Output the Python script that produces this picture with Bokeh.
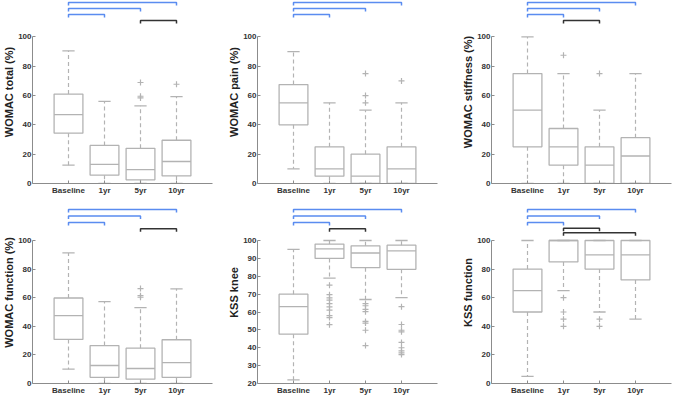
from bokeh.plotting import figure
from bokeh.models import Range1d, FixedTicker
from bokeh.layouts import column, row
from bokeh.embed import file_html
from bokeh.resources import INLINE

categories = ["Baseline", "1yr", "5yr", "10yr"]

# ---- WOMAC total (%)
total_lo = [12.5, 0, 0, 0]
total_q1 = [34.3, 5.7, 2.5, 5.2]
total_med = [47, 13, 9.5, 15]
total_q3 = [61, 26, 24, 29.5]
total_hi = [90.5, 56, 53, 59.3]
total_out = [[], [], [68.9, 59.5, 58.4], [67.7]]

# ---- WOMAC pain (%)
pain_lo = [10, 0, 0, 0]
pain_q1 = [40, 5, 0, 0]
pain_med = [55, 10, 5, 10]
pain_q3 = [67.5, 25, 20, 25]
pain_hi = [90, 55, 50, 55]
pain_out = [[], [], [75, 60, 55], [70]]

# ---- WOMAC stiffness (%)
stiff_lo = [0, 0, 0, 0]
stiff_q1 = [25, 12.5, 0, 0]
stiff_med = [50, 25, 12.5, 18.75]
stiff_q3 = [75, 37.5, 25, 31.25]
stiff_hi = [100, 75, 50, 75]
stiff_out = [[], [87.5], [75], []]

# ---- WOMAC function (%)
func_lo = [10, 0, 0, 0]
func_q1 = [30.8, 4.3, 3, 4.3]
func_med = [47.5, 12.6, 10.5, 14.6]
func_q3 = [59.8, 26.5, 24.7, 30.6]
func_hi = [91.3, 57.3, 53, 66.2]
func_out = [[], [], [66.4, 61.4, 60.3], []]

# ---- KSS knee
knee_lo = [22, 79, 67, 68]
knee_q1 = [47.6, 90, 84.8, 83.9]
knee_med = [63, 95.3, 93, 94.2]
knee_q3 = [70, 98, 97, 97.4]
knee_hi = [95, 100, 100, 100]
knee_out = [[],
            [75, 69.7, 67.9, 66.6, 64.7, 62.9, 61.1, 58, 56.9, 52.9],
            [64.7, 63.5, 61.5, 60.2, 54.7, 53.8, 49.8, 41.2],
            [63, 53, 49.8, 48.9, 43, 40, 38.2, 37.1, 36.2]]

# ---- KSS function
kssf_lo = [5, 65, 50, 45]
kssf_q1 = [50, 85, 80, 72.4]
kssf_med = [65, 100, 90, 90]
kssf_q3 = [80, 100, 100, 100]
kssf_hi = [100, 100, 100, 100]
kssf_out = [[], [60, 50, 45, 40], [45, 40], []]

# significance brackets: (from category index, to category index, kind, stack level)
total_brackets = [(0, 1, "b", 1), (0, 2, "b", 2), (0, 3, "b", 3), (2, 3, "k", 0)]
pain_brackets = [(0, 1, "b", 1), (0, 2, "b", 2), (0, 3, "b", 3)]
stiff_brackets = [(0, 1, "b", 1), (0, 2, "b", 2), (0, 3, "b", 3), (1, 2, "k", 0)]
func_brackets = [(0, 1, "b", 1), (0, 2, "b", 2), (0, 3, "b", 3), (2, 3, "k", 0)]
knee_brackets = [(0, 1, "b", 1), (0, 2, "b", 2), (0, 3, "b", 3), (1, 2, "k", 0)]
kssf_brackets = [(0, 1, "b", 1), (0, 2, "b", 2), (0, 3, "b", 3), (1, 2, "k", 0.1), (1, 3, "k", -0.6)]

BOX = "#b3b3b3"
AXIS = "#8c8c8c"
TXT = "#333333"
BLUE = "#5a8cf0"
BLACK = "#333333"
FONT = "Liberation Sans"
FW = 180


def panel(label, lo, q1, med, q3, hi, out, brackets, ymin, ymax, yticks,
          frame_h, span_px, lvl_px, left, right, bottom):
    ppu = span_px / (ymax - ymin)
    yend = ymin + frame_h / ppu
    p = figure(frame_width=FW, frame_height=frame_h, x_range=Range1d(0, 5),
               y_range=Range1d(ymin, yend), output_backend="svg",
               toolbar_location=None, min_border_left=left,
               min_border_right=right, min_border_top=0,
               min_border_bottom=bottom)
    p.outline_line_color = None
    p.grid.visible = False
    xs = [i + 1 for i in range(len(categories))]

    # boxes
    p.quad(left=[x - 0.4 for x in xs], right=[x + 0.4 for x in xs],
           bottom=q1, top=q3, fill_color=None, line_color=BOX, line_width=1.3)
    # whiskers (dashed)
    p.segment(x0=xs, y0=q3, x1=xs, y1=hi, line_color=BOX, line_width=1.2,
              line_dash="4 3")
    p.segment(x0=xs, y0=q1, x1=xs, y1=lo, line_color=BOX, line_width=1.2,
              line_dash="4 3")
    # caps
    p.segment(x0=[x - 0.17 for x in xs], y0=hi, x1=[x + 0.17 for x in xs],
              y1=hi, line_color=BOX, line_width=1.3)
    p.segment(x0=[x - 0.17 for x in xs], y0=lo, x1=[x + 0.17 for x in xs],
              y1=lo, line_color=BOX, line_width=1.3)
    # medians
    p.segment(x0=[x - 0.4 for x in xs], y0=med, x1=[x + 0.4 for x in xs],
              y1=med, line_color=BOX, line_width=1.3)
    # outliers
    ox, oy = [], []
    for x, vals in zip(xs, out):
        for v in vals:
            ox.append(x)
            oy.append(v)
    if ox:
        p.scatter(x=ox, y=oy, marker="cross", size=6, line_color=BOX,
                  line_width=1.2)

    # brackets
    drop = 3.0 / ppu
    for i, j, kind, lvl in brackets:
        yb = ymax + (lvl_px[0] + lvl * lvl_px[1]) / ppu
        p.line(x=[xs[i], xs[i], xs[j], xs[j]], y=[yb - drop, yb, yb, yb - drop],
               line_color=BLUE if kind == "b" else BLACK, line_width=1.5)

    # axes
    for ax in (p.xaxis[0], p.yaxis[0]):
        ax.axis_line_color = AXIS
        ax.major_tick_line_color = AXIS
        ax.minor_tick_line_color = None
        ax.major_tick_in = 3
        ax.major_tick_out = 0
        ax.major_label_text_font = FONT
        ax.major_label_text_font_style = "bold"
        ax.major_label_text_font_size = "8px"
        ax.major_label_text_color = TXT
        ax.major_label_standoff = 2
    p.xaxis.ticker = FixedTicker(ticks=xs)
    p.xaxis.major_label_overrides = {x: c for x, c in zip(xs, categories)}
    p.yaxis.ticker = FixedTicker(ticks=yticks)
    p.yaxis.bounds = (ymin, ymax)
    p.yaxis.major_label_standoff = 1
    p.yaxis.axis_label = label
    p.yaxis.axis_label_text_font = FONT
    p.yaxis.axis_label_text_font_style = "bold"
    p.yaxis.axis_label_text_font_size = "11px"
    p.yaxis.axis_label_text_color = "#222222"
    p.yaxis.axis_label_standoff = 0
    return p


t20 = [0, 20, 40, 60, 80, 100]
t10 = [20, 30, 40, 50, 60, 70, 80, 90, 100]

TOP = dict(frame_h=183, span_px=146.6, lvl_px=(16.5, 6.0), bottom=18)
BOT = dict(frame_h=182, span_px=143, lvl_px=(11.7, 6.4), bottom=18)

p1 = panel("WOMAC total (%)", total_lo, total_q1, total_med, total_q3, total_hi,
           total_out, total_brackets, 0, 100, t20, left=30, right=9, **TOP)
p2 = panel("WOMAC pain (%)", pain_lo, pain_q1, pain_med, pain_q3, pain_hi,
           pain_out, pain_brackets, 0, 100, t20, left=36, right=18, **TOP)
p3 = panel("WOMAC stiffness (%)", stiff_lo, stiff_q1, stiff_med, stiff_q3,
           stiff_hi, stiff_out, stiff_brackets, 0, 100, t20, left=36, right=4, **TOP)
p4 = panel("WOMAC function (%)", func_lo, func_q1, func_med, func_q3, func_hi,
           func_out, func_brackets, 0, 100, t20, left=30, right=9, **BOT)
p5 = panel("KSS knee", knee_lo, knee_q1, knee_med, knee_q3, knee_hi,
           knee_out, knee_brackets, 20, 100, t10, left=36, right=18, **BOT)
p6 = panel("KSS function", kssf_lo, kssf_q1, kssf_med, kssf_q3, kssf_hi,
           kssf_out, kssf_brackets, 0, 100, t20, left=36, right=4, **BOT)

layout = column(row(p1, p2, p3), row(p4, p5, p6))

open("out.html", "w").write(file_html(layout, INLINE))
